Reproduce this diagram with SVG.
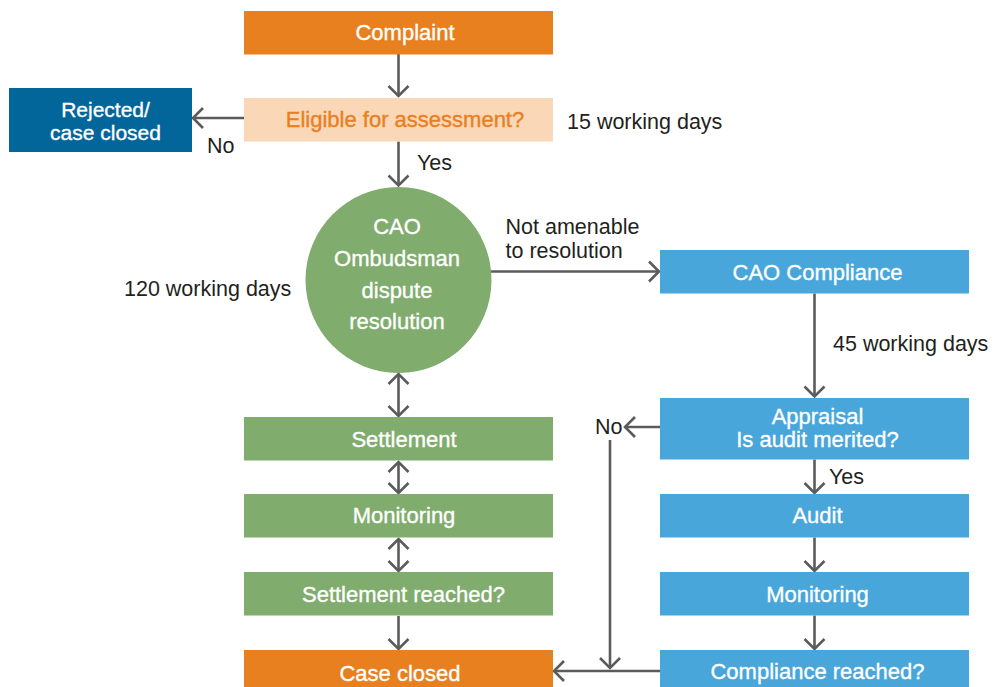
<svg xmlns="http://www.w3.org/2000/svg" width="994" height="687" viewBox="0 0 994 687">
  <style>
    .orange { fill: #E8801F; }
    .peach { fill: #FAD7B7; }
    .navy { fill: #03669A; }
    .green { fill: #80AC6E; }
    .blue { fill: #48A6DB; }
    .box-text { font-family: "Liberation Sans", Arial, sans-serif; font-size: 22px; fill: #ffffff; stroke: #ffffff; stroke-width: 0.35; text-anchor: middle; }
    .box-text.dark { fill: #E8801F; stroke: #E8801F; }
    .box-text.tight { font-size: 21px; }
    .label { font-family: "Liberation Sans", Arial, sans-serif; font-size: 21.5px; fill: #231F20; }
    .conn { fill: none; stroke: #5B5B5B; stroke-width: 2.6; }
  </style>
  <defs>
    <marker id="chevron" viewBox="-13 -12 15 24" markerWidth="15" markerHeight="24" refX="0" refY="0" orient="auto-start-reverse" markerUnits="userSpaceOnUse">
      <path d="M-10,-10 L0,0 L-10,10" fill="none" stroke="#5B5B5B" stroke-width="2.6"/>
    </marker>
  </defs>
  <rect width="994" height="687" fill="#ffffff"/>

  <!-- connectors -->
  <g id="connectors">
    <path class="conn" d="M398.5,54 V96" marker-end="url(#chevron)"/>
    <path class="conn" d="M244,118 H193" marker-end="url(#chevron)"/>
    <path class="conn" d="M398.5,141.5 V185.5" marker-end="url(#chevron)"/>
    <path class="conn" d="M491,271.5 H659" marker-end="url(#chevron)"/>
    <path class="conn" d="M814.5,293.5 V396.5" marker-end="url(#chevron)"/>
    <path class="conn" d="M660,427 H625" marker-end="url(#chevron)"/>
    <path class="conn" d="M610,440 V668" marker-end="url(#chevron)"/>
    <path class="conn" d="M814.5,459.5 V493" marker-end="url(#chevron)"/>
    <path class="conn" d="M814.5,537.5 V571" marker-end="url(#chevron)"/>
    <path class="conn" d="M814.5,615.5 V649" marker-end="url(#chevron)"/>
    <path class="conn" d="M660,671 H554" marker-end="url(#chevron)"/>
    <path class="conn" d="M398.5,374 V416" marker-start="url(#chevron)" marker-end="url(#chevron)"/>
    <path class="conn" d="M398.5,462 V493" marker-start="url(#chevron)" marker-end="url(#chevron)"/>
    <path class="conn" d="M398.5,539 V571" marker-start="url(#chevron)" marker-end="url(#chevron)"/>
    <path class="conn" d="M398.5,616 V649" marker-end="url(#chevron)"/>
  </g>

  <!-- edge labels and durations -->
  <g id="labels">
    <text class="label" x="207" y="152.5">No</text>
    <text class="label" x="417" y="169.5">Yes</text>
    <text class="label" x="567" y="128.5">15 working days</text>
    <text class="label" x="124" y="295.5">120 working days</text>
    <text class="label" x="505.5" y="233.5">Not amenable</text>
    <text class="label" x="505.5" y="257.5">to resolution</text>
    <text class="label" x="833" y="350.5">45 working days</text>
    <text class="label" x="595" y="433.5">No</text>
    <text class="label" x="829" y="484">Yes</text>
  </g>

  <g id="complaint">
    <rect class="orange" x="244" y="11" width="309" height="43.5"/>
    <text class="box-text" x="405" y="40">Complaint</text>
  </g>
  <g id="eligible">
    <rect class="peach" x="244" y="98" width="309" height="43.5"/>
    <text class="box-text dark" x="405" y="127">Eligible for assessment?</text>
  </g>
  <g id="rejected">
    <rect class="navy" x="9" y="88" width="183" height="64"/>
    <text class="box-text tight" x="105.5" y="116.5">Rejected/</text>
    <text class="box-text tight" x="105.5" y="139.5">case closed</text>
  </g>
  <g id="ombudsman">
    <circle class="green" cx="398.5" cy="280" r="93"/>
    <text class="box-text" x="397" y="234">CAO</text>
    <text class="box-text" x="397" y="266">Ombudsman</text>
    <text class="box-text" x="397" y="298">dispute</text>
    <text class="box-text" x="397" y="329">resolution</text>
  </g>
  <g id="settlement">
    <rect class="green" x="244" y="417" width="309" height="43.5"/>
    <text class="box-text" x="404" y="447">Settlement</text>
  </g>
  <g id="monitoring-left">
    <rect class="green" x="244" y="494" width="309" height="43.5"/>
    <text class="box-text" x="404" y="523">Monitoring</text>
  </g>
  <g id="settlement-reached">
    <rect class="green" x="244" y="572" width="309" height="43.5"/>
    <text class="box-text" x="403.5" y="601.5">Settlement reached?</text>
  </g>
  <g id="case-closed">
    <rect class="orange" x="244" y="650" width="309" height="40"/>
    <text class="box-text" x="400" y="681">Case closed</text>
  </g>
  <g id="compliance">
    <rect class="blue" x="660" y="250" width="309" height="43.5"/>
    <text class="box-text" x="817.5" y="280">CAO Compliance</text>
  </g>
  <g id="appraisal">
    <rect class="blue" x="660" y="398" width="309" height="61.5"/>
    <text class="box-text" x="817.5" y="424">Appraisal</text>
    <text class="box-text" x="817.5" y="447">Is audit merited?</text>
  </g>
  <g id="audit">
    <rect class="blue" x="660" y="494" width="309" height="43.5"/>
    <text class="box-text" x="817.5" y="522.5">Audit</text>
  </g>
  <g id="monitoring-right">
    <rect class="blue" x="660" y="572" width="309" height="43.5"/>
    <text class="box-text" x="817.5" y="602">Monitoring</text>
  </g>
  <g id="compliance-reached">
    <rect class="blue" x="660" y="650" width="309" height="40"/>
    <text class="box-text" x="817.5" y="678.5">Compliance reached?</text>
  </g>
</svg>
